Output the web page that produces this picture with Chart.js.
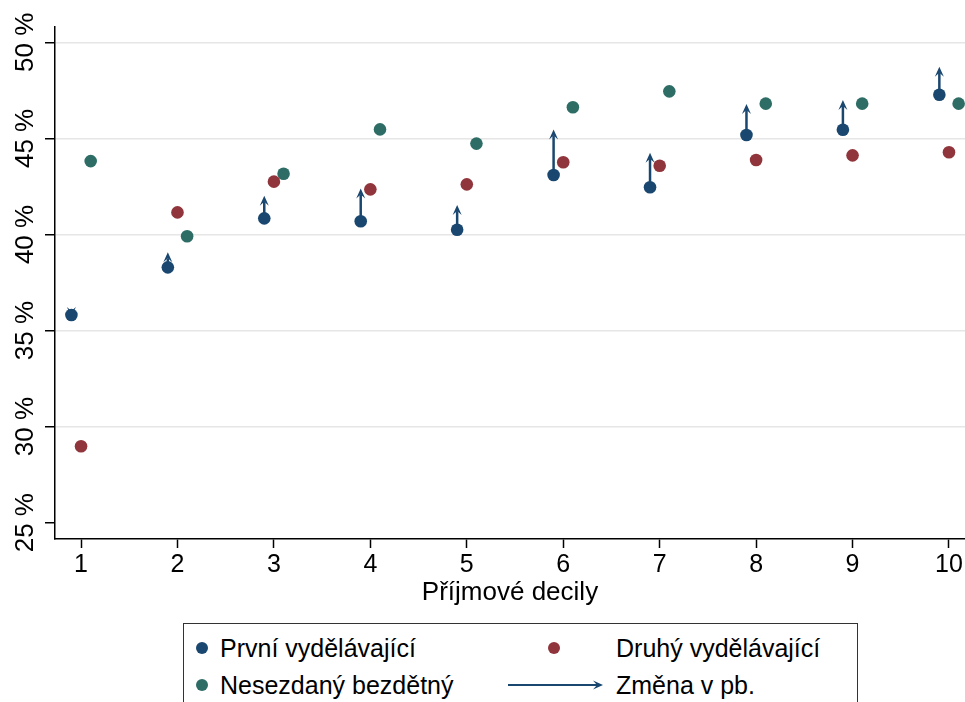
<!DOCTYPE html>
<html lang="cs">
<head>
<meta charset="utf-8">
<script src="https://cdn.jsdelivr.net/npm/chart.js@4.4.1/dist/chart.umd.min.js"></script>
<style>
  html, body { margin: 0; padding: 0; background: #fff; }
  #wrap { position: relative; width: 965px; height: 702px; overflow: hidden; font-family: 'Liberation Sans', Arial, sans-serif; }
  #graf { position: absolute; left: 0; top: 0; }
  #legenda { position: absolute; left: 183px; top: 623px; width: 675px; height: 100px; border: 1.5px solid #333; box-sizing: border-box; background: #fff; }
  .pol { position: absolute; font-size: 25px; line-height: 30px; color: #000; white-space: nowrap; }
  .tecka { position: absolute; width: 12px; height: 12px; border-radius: 50%; }
</style>
</head>
<body>
<div id="wrap">
  <canvas id="graf" width="965" height="702"></canvas>
  <div id="legenda">
    <div class="tecka" style="left:12px; top:18px; background:#1a476f"></div>
    <div class="pol" style="left:36px; top:9px">První vydělávající</div>
    <div class="tecka" style="left:364px; top:18px; background:#90353b"></div>
    <div class="pol" style="left:432px; top:9px">Druhý vydělávající</div>
    <div class="tecka" style="left:12px; top:55px; background:#2d6d66"></div>
    <div class="pol" style="left:36px; top:46px">Nesezdaný bezdětný</div>
    <canvas id="legSipka" width="100" height="20" style="position:absolute; left:322px; top:51px"></canvas>
    <div class="pol" style="left:432px; top:46px">Změna v pb.</div>
  </div>
</div>
<script>
// Data
const decily = [1, 2, 3, 4, 5, 6, 7, 8, 9, 10];
const prvni = [35.81, 38.29, 40.84, 40.69, 40.25, 43.10, 42.46, 45.18, 45.45, 47.27];
const druhy = [28.98, 41.15, 42.75, 42.35, 42.61, 43.76, 43.58, 43.88, 44.12, 44.28];
const nesezdany = [43.82, 39.91, 43.16, 45.47, 44.73, 46.62, 47.45, 46.81, 46.81, 46.81];
const zmena = [-0.1, 0.78, 1.18, 1.71, 1.28, 2.37, 1.80, 1.61, 1.55, 1.46]; // pb., sipka od prvniho
const yTicks = [25, 30, 35, 40, 45, 50];

const modra = '#1a476f', cervena = '#90353b', zelena = '#2d6d66';
const pismo = "'Liberation Sans', Arial, sans-serif";
const posun = 0.1;

const body = (hodnoty, dx) => hodnoty.map((v, i) => ({ x: decily[i] + dx, y: v }));

function kresliSipku(ctx, x0, y0, x1, y1, delka, sirka) {
    const ang = Math.atan2(y1 - y0, x1 - x0);
    const cos = Math.cos(ang), sin = Math.sin(ang);
    ctx.beginPath();
    ctx.moveTo(x0, y0);
    ctx.lineTo(x1 - cos * delka * 0.6, y1 - sin * delka * 0.6);
    ctx.stroke();
    ctx.beginPath();
    ctx.moveTo(x1, y1);
    ctx.lineTo(x1 - cos * delka - sin * sirka, y1 - sin * delka + cos * sirka);
    ctx.lineTo(x1 - cos * delka * 0.6, y1 - sin * delka * 0.6);
    ctx.lineTo(x1 - cos * delka + sin * sirka, y1 - sin * delka - cos * sirka);
    ctx.closePath();
    ctx.fill();
}

// arrows from first earner's value by the change
const sipky = {
    id: 'sipky',
    afterDatasetsDraw(chart) {
        const { ctx, scales: { x, y } } = chart;
        ctx.save();
        ctx.strokeStyle = modra;
        ctx.fillStyle = modra;
        ctx.lineWidth = 2.5;
        decily.forEach((d, i) => {
            const px = x.getPixelForValue(d - posun);
            kresliSipku(ctx, px, y.getPixelForValue(prvni[i]), px, y.getPixelForValue(prvni[i] + zmena[i]), 10, 4.5);
        });
        ctx.restore();
    }
};

const bod = (label, data, barva) => ({
    label, data,
    backgroundColor: barva, borderColor: barva, borderWidth: 0,
    pointRadius: 6.3, pointHoverRadius: 6.3
});

const bezOkraje = s => { s.paddingLeft = 0; s.paddingRight = 0; s.paddingTop = 0; s.paddingBottom = 0; };

new Chart(document.getElementById('graf'), {
    type: 'scatter',
    data: {
        datasets: [
            bod('První vydělávající', body(prvni, -posun), modra),
            bod('Druhý vydělávající', body(druhy, 0), cervena),
            bod('Nesezdaný bezdětný', body(nesezdany, posun), zelena)
        ]
    },
    plugins: [sipky],
    options: {
        responsive: false,
        animation: false,
        layout: { autoPadding: false, padding: { top: 27, right: 0, bottom: 94, left: 0 } },
        plugins: { legend: { display: false }, tooltip: { enabled: false } },
        scales: {
            x: {
                type: 'linear', min: 0.73, max: 10.166,
                afterBuildTicks: s => { s.ticks = decily.map(v => ({ value: v })); },
                afterFit: s => { s.height = 69; bezOkraje(s); },
                grid: { drawOnChartArea: false, tickLength: 9, tickColor: '#000', tickWidth: 1.5 },
                border: { color: '#000', width: 1.5 },
                ticks: { font: { size: 25, family: pismo }, color: '#000', padding: 2, maxRotation: 0 },
                title: { display: true, text: 'Příjmové decily', font: { size: 26, family: pismo }, color: '#000', padding: 0 }
            },
            y: {
                type: 'linear', min: 24.15, max: 50.8,
                afterBuildTicks: s => { s.ticks = yTicks.map(v => ({ value: v })); },
                afterFit: s => { s.width = 55; bezOkraje(s); },
                grid: {
                    color: c => (c.tick && c.tick.value === 25) ? 'rgba(0,0,0,0)' : '#e6e6e6',
                    lineWidth: 1.5, tickLength: 10, tickColor: '#000', tickWidth: 1.5
                },
                border: { color: '#000', width: 1.5 },
                ticks: {
                    callback: v => v + ' %',
                    minRotation: 90, maxRotation: 90, crossAlign: 'center', padding: -10,
                    font: { size: 26, family: pismo }, color: '#000'
                }
            }
        }
    }
});

// legend arrow
const lctx = document.getElementById('legSipka').getContext('2d');
lctx.strokeStyle = modra;
lctx.fillStyle = modra;
lctx.lineWidth = 2;
kresliSipku(lctx, 2, 10, 97, 10, 10, 4.5);
</script>
</body>
</html>
